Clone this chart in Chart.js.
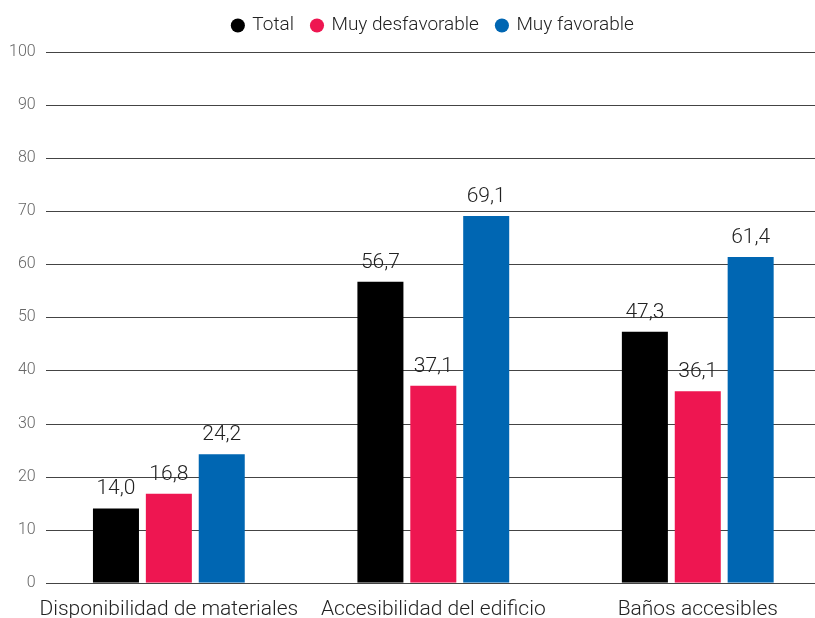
<!DOCTYPE html>
<html>
<head>
<meta charset="utf-8">
<script src="https://cdn.jsdelivr.net/npm/chart.js"></script>
<style>
    html, body { margin: 0; padding: 0; background: #fff; overflow: hidden; }
    #clip { width: 815px; height: 618px; overflow: hidden; position: relative; }
    /* the original is cropped on the right, so the chart is a bit wider than the window */
    #wrap { width: 830px; height: 618px; position: relative; }
</style>
</head>
<body>
<div id="clip"><div id="wrap"><canvas id="chart"></canvas></div></div>
<script>
(function() {
    'use strict';

    // data
    const categories = ['Disponibilidad de materiales', 'Accesibilidad del edificio', 'Baños accesibles'];
    const seriesNames = ['Total', 'Muy desfavorable', 'Muy favorable'];
    const totalValues = [14.0, 56.7, 47.3];
    const desfavorableValues = [16.8, 37.1, 36.1];
    const favorableValues = [24.2, 69.1, 61.4];
    const colors = ['#000000', '#ee1651', '#0066b2'];

    const fontFamily = 'Roboto, "Noto Sans", sans-serif';
    const gridStartX = 46;

    // extra room between legend and plot
    const legendSpacing = {
        id: 'legendSpacing',
        beforeInit(chart) {
            const origFit = chart.legend.fit;
            chart.legend.fit = function() {
                origFit.bind(chart.legend)();
                this.height += 7;
            };
        }
    };

    // horizontal grid lines, starting a little right of the axis
    const gridLines = {
        id: 'gridLines',
        beforeDatasetsDraw(chart) {
            const ctx = chart.ctx;
            const y = chart.scales.y;
            ctx.save();
            ctx.strokeStyle = '#444';
            ctx.lineWidth = 1;
            y.ticks.forEach(t => {
                const py = Math.round(y.getPixelForValue(t.value)) + 0.5;
                ctx.beginPath();
                ctx.moveTo(gridStartX, py);
                ctx.lineTo(chart.chartArea.right, py);
                ctx.stroke();
            });
            ctx.restore();
        }
    };

    // draws the value above each bar, comma as decimal separator
    const valueLabels = {
        id: 'valueLabels',
        afterDatasetsDraw(chart) {
            const ctx = chart.ctx;
            ctx.save();
            ctx.font = '300 21px ' + fontFamily;
            ctx.fillStyle = '#222';
            ctx.textAlign = 'center';
            ctx.textBaseline = 'alphabetic';
            chart.data.datasets.forEach((ds, i) => {
                chart.getDatasetMeta(i).data.forEach((bar, j) => {
                    const txt = ds.data[j].toFixed(1).replace('.', ',');
                    ctx.fillText(txt, bar.x, bar.y - 14);
                });
            });
            ctx.restore();
        }
    };

    const datasets = [totalValues, desfavorableValues, favorableValues].map((vals, i) => ({
        label: seriesNames[i],
        data: vals,
        backgroundColor: colors[i],
        borderWidth: 0,
        categoryPercentage: 0.6,
        barPercentage: 0.87
    }));

    new Chart(document.getElementById('chart'), {
        type: 'bar',
        data: { labels: categories, datasets: datasets },
        options: {
            responsive: true,
            maintainAspectRatio: false,
            animation: false,
            layout: { padding: { left: 8, right: 0, top: -2, bottom: -18 } },
            scales: {
                y: {
                    min: 0,
                    max: 100,
                    ticks: {
                        stepSize: 10,
                        color: '#666',
                        padding: 1,
                        font: { family: fontFamily, size: 16, weight: '300' }
                    },
                    grid: { display: false, drawTicks: false },
                    border: { display: false }
                },
                x: {
                    ticks: {
                        color: '#222',
                        padding: 14,
                        autoSkip: false,
                        maxRotation: 0,
                        minRotation: 0,
                        font: { family: fontFamily, size: 21, weight: '300' }
                    },
                    grid: { display: false, drawTicks: false },
                    border: { display: false }
                }
            },
            plugins: {
                legend: {
                    position: 'top',
                    align: 'center',
                    fullSize: false,
                    labels: {
                        usePointStyle: true,
                        pointStyle: 'circle',
                        boxWidth: 10,
                        boxHeight: 10,
                        padding: 18,
                        color: '#222',
                        font: { family: fontFamily, size: 19, weight: '300' }
                    }
                },
                tooltip: { enabled: false }
            }
        },
        plugins: [legendSpacing, gridLines, valueLabels]
    });
})();
</script>
</body>
</html>
